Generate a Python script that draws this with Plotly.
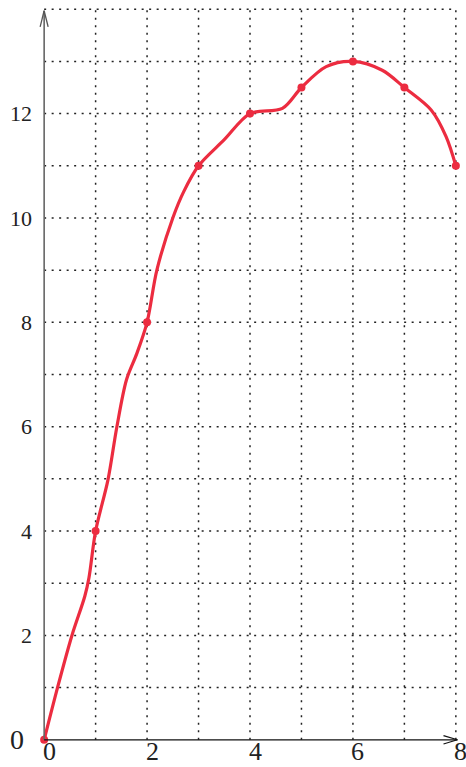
import plotly.graph_objects as go

# Main plotted points (markers)
pts_x = [0, 1, 2, 3, 4, 5, 6, 7, 8]
pts_y = [0, 4, 8, 11, 12, 12.5, 13, 12.5, 11]

# Hand-drawn curve path
curve_x = [0, 0.26, 0.54, 0.79, 0.87, 1.0, 1.24, 1.41, 1.6, 1.8, 2.0, 2.19, 2.5,
           2.71, 3.0, 3.5, 4.0, 4.63, 5.0, 5.48, 6.0, 6.57, 7.0, 7.52, 7.81, 8.0]
curve_y = [0, 1, 2, 2.75, 3.1, 4, 4.98, 5.98, 6.9, 7.4, 8, 9, 10,
           10.5, 11, 11.5, 12, 12.1, 12.5, 12.9, 13.0, 12.83, 12.5, 12.07, 11.56, 11]

x_ticks = [0, 2, 4, 6, 8]
y_ticks = [2, 4, 6, 8, 10, 12]
x_grid = [1, 2, 3, 4, 5, 6, 7, 8]
y_grid = [1, 2, 3, 4, 5, 6, 7, 8, 9, 10, 11, 12, 13, 14]
X_MAX, Y_MAX = 8, 14

RED = "#ec2c40"
SERIF = "Liberation Serif"

fig = go.Figure()
fig.add_trace(go.Scatter(x=curve_x, y=curve_y, mode="lines",
                         line=dict(color=RED, width=3.2, shape="spline", smoothing=0.9),
                         cliponaxis=False, hoverinfo="skip", showlegend=False))
fig.add_trace(go.Scatter(x=pts_x, y=pts_y, mode="markers",
                         marker=dict(color=RED, size=8),
                         cliponaxis=False, showlegend=False))

shapes = []
dot = "2px,5.5px"
for gx in x_grid:
    shapes.append(dict(type="line", xref="x", yref="y", x0=gx, x1=gx, y0=0, y1=Y_MAX,
                       line=dict(color="#222", width=1.5, dash=dot), layer="below"))
for gy in y_grid:
    shapes.append(dict(type="line", xref="x", yref="y", x0=0, x1=X_MAX, y0=gy, y1=gy,
                       line=dict(color="#222", width=1.5, dash=dot), layer="below"))
# y axis with arrow
shapes.append(dict(type="line", xref="x", yref="y", x0=0, x1=0, y0=0, y1=13.97,
                   line=dict(color="#666", width=1.6)))
shapes.append(dict(type="line", xref="x", yref="y", x0=-0.078, x1=0, y0=13.66, y1=13.97,
                   line=dict(color="#555", width=1.3)))
shapes.append(dict(type="line", xref="x", yref="y", x0=0.078, x1=0, y0=13.66, y1=13.97,
                   line=dict(color="#555", width=1.3)))
# x axis with arrow
shapes.append(dict(type="line", xref="x", yref="y", x0=0, x1=8.03, y0=0, y1=0,
                   line=dict(color="#111", width=1.3)))
shapes.append(dict(type="line", xref="x", yref="y", x0=7.76, x1=8.03, y0=0.08, y1=0,
                   line=dict(color="#111", width=1.2)))
shapes.append(dict(type="line", xref="x", yref="y", x0=7.76, x1=8.03, y0=-0.08, y1=0,
                   line=dict(color="#111", width=1.2)))

annotations = [dict(x=v, y=0, xref="x", yref="y", text=str(v), showarrow=False,
                    xanchor="center", yanchor="top", xshift=5, yshift=5,
                    font=dict(family=SERIF, size=26, color="#222"))
               for v in x_ticks]
annotations.append(dict(x=0, y=0, xref="x", yref="y", text="0", showarrow=False,
                        xanchor="right", yanchor="middle", xshift=-18,
                        font=dict(family=SERIF, size=28, color="#222")))

fig.update_layout(
    width=466, height=767,
    margin=dict(l=39, r=5, t=4, b=22),
    plot_bgcolor="white", paper_bgcolor="white",
    shapes=shapes,
    xaxis=dict(range=[-0.1, 8.1], showgrid=False, zeroline=False, showline=False,
               showticklabels=False, ticks="", automargin=False),
    yaxis=dict(range=[-0.1, 14.1], showgrid=False, zeroline=False, showline=False,
               tickvals=y_ticks, ticktext=[str(v) for v in y_ticks],
               tickfont=dict(family=SERIF, size=22, color="#222"), ticks="",
               ticklabelstandoff=6, automargin=False),
    annotations=annotations,
)

fig.write_html("out.html", config={"responsive": False, "displayModeBar": False},
               post_script="document.body.style.margin='0';document.body.style.overflow='hidden';")
